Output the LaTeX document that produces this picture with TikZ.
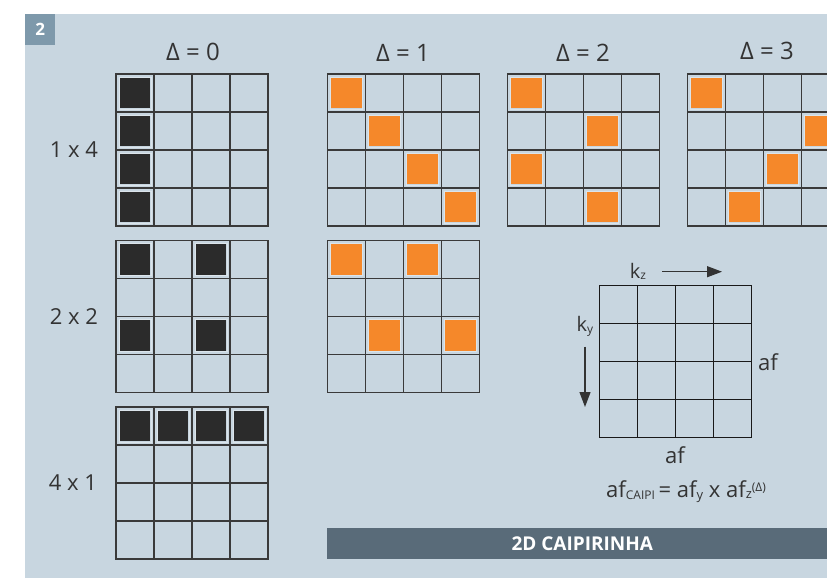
\documentclass[tikz,border=0pt]{standalone}
\usepackage{fontspec}
\setmainfont{Open Sans}
\usetikzlibrary{arrows.meta}
\definecolor{panel}{HTML}{C8D6E0}
\definecolor{tagc}{HTML}{7E99AB}
\definecolor{gridc}{HTML}{3A3A3A}
\definecolor{blk}{HTML}{2B2B2B}
\definecolor{org}{HTML}{F5882A}
\definecolor{bann}{HTML}{596B79}
\definecolor{txt}{HTML}{333333}
\newcommand\mygrid[3]{%
  \foreach \i in {0,...,4}{%
    \draw[#3] (#1+\i*38,#2) -- (#1+\i*38,#2+152);
    \draw[#3] (#1,#2+\i*38) -- (#1+152,#2+\i*38);
  }%
}
\newcommand\mcell[5]{%
  \fill[#5] (#1+#3*38+3.6,#2+#4*38+3.6) rectangle ++(30.8,30.8);
  \draw[white,opacity=0.35,line width=0.6pt] (#1+#3*38+3.1,#2+#4*38+3.1) rectangle ++(31.8,31.8);
}
\newcommand\fz[1]{\fontsize{#1}{#1}\selectfont}
\begin{document}
\begin{tikzpicture}[x=1pt,y=-1pt,
  gline/.style={draw=gridc,line width=1.5pt,line cap=rect},
  kline/.style={draw=black!90,line width=1.2pt,line cap=rect},
  lbl/.style={text=txt,inner sep=0pt},
  arr/.style={draw=txt,line width=1.2pt,-{Triangle[length=15pt,width=11pt]}}]
\useasboundingbox (0,0) rectangle (827,578);
\clip (0,0) rectangle (827,578);
\fill[white] (0,0) rectangle (827,578);
\fill[panel] (25,14) rectangle (827,578);
\node[fill=tagc,minimum width=30pt,minimum height=31pt,inner sep=0pt,anchor=north west,text=white,font=\bfseries\fz{17}] (tag) at (25,14) {2};
% headers
\node[lbl,font=\fz{24}] (d0) at (193,52) {Δ = 0};
\node[lbl,font=\fz{24}] (d1) at (403,53) {Δ = 1};
\node[lbl,font=\fz{24}] (d2) at (583,53) {Δ = 2};
\node[lbl,font=\fz{24}] (d3) at (767,51) {Δ = 3};
% row labels
\node[lbl,font=\fz{22}] (l14) at (74,150) {1 x 4};
\node[lbl,font=\fz{22}] (l22) at (74,317) {2 x 2};
\node[lbl,font=\fz{22}] (l41) at (73,483) {4 x 1};
% Delta 0
\foreach \r in {0,...,3}{\mcell{116}{74}{0}{\r}{blk}}
\mcell{116}{240.5}{0}{0}{blk}\mcell{116}{240.5}{2}{0}{blk}
\mcell{116}{240.5}{0}{2}{blk}\mcell{116}{240.5}{2}{2}{blk}
\foreach \c in {0,...,3}{\mcell{116}{407}{\c}{0}{blk}}
\mygrid{116}{74}{gline}
\mygrid{116}{240.5}{gline}
\mygrid{116}{407}{gline}
% Delta 1
\foreach \r in {0,...,3}{\mcell{327.3}{74}{\r}{\r}{org}}
\mcell{327.3}{240.5}{0}{0}{org}\mcell{327.3}{240.5}{2}{0}{org}
\mcell{327.3}{240.5}{1}{2}{org}\mcell{327.3}{240.5}{3}{2}{org}
\mygrid{327.3}{74}{gline}
\mygrid{327.3}{240.5}{gline}
% Delta 2
\mcell{507.3}{74}{0}{0}{org}\mcell{507.3}{74}{2}{1}{org}
\mcell{507.3}{74}{0}{2}{org}\mcell{507.3}{74}{2}{3}{org}
\mygrid{507.3}{74}{gline}
% Delta 3
\mcell{687.3}{74}{0}{0}{org}\mcell{687.3}{74}{3}{1}{org}
\mcell{687.3}{74}{2}{2}{org}\mcell{687.3}{74}{1}{3}{org}
\mygrid{687.3}{74}{gline}
% k-space grid
\mygrid{599.3}{285.7}{kline}
\node[lbl,font=\fz{20}] (kz) at (638,271) {k\raisebox{-1pt}{\fz{12}z}};
\coordinate (kzs) at (662,271.7);
\coordinate (kze) at (722,271.7);
\draw[arr] (kzs) -- (kze);
\node[lbl,font=\fz{20}] (ky) at (585,326) {k\raisebox{-2pt}{\fz{12}y}};
\coordinate (kys) at (585,346.7);
\coordinate (kye) at (585,407);
\draw[arr] (kys) -- (kye);
\node[lbl,font=\fz{22}] (afr) at (768,362) {af};
\node[lbl,font=\fz{22}] (afb) at (675,455) {af};
\node[lbl,font=\fz{22}] (formula) at (686,492) {af\raisebox{-1.5pt}{\fz{12}CAIPI}\,= af\raisebox{-2pt}{\fz{13}y} x af\raisebox{-1pt}{\fz{13}z}\raisebox{6pt}{\fz{12}(Δ)}};
% banner
\node[fill=bann,minimum width=510pt,minimum height=30.7pt,inner sep=0pt,text=white,font=\bfseries\fz{19}] (banner) at (582.3,543.6) {2D CAIPIRINHA};
\end{tikzpicture}
\end{document}
